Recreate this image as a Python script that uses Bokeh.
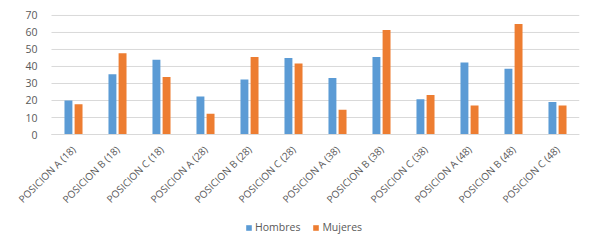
import math
import numpy as np
from bokeh.plotting import figure
from bokeh.models import ColumnDataSource, Range1d, Legend, LegendItem, FixedTicker
from bokeh.embed import file_html
from bokeh.resources import INLINE

categories = ["POSICION A (18)", "POSICION B (18)", "POSICION C (18)",
              "POSICION A (28)", "POSICION B (28)", "POSICION C (28)",
              "POSICION A (38)", "POSICION B (38)", "POSICION C (38)",
              "POSICION A (48)", "POSICION B (48)", "POSICION C (48)"]
hombres = [20, 35.5, 44, 22.3, 32.3, 45, 33.2, 45.6, 20.8, 42.3, 38.6, 19.1]
mujeres = [17.8, 47.8, 33.8, 12.2, 45.6, 41.8, 14.6, 61.5, 23.2, 17, 65, 17]
y_ticks = [0, 10, 20, 30, 40, 50, 60, 70]

n = len(categories)
centers = np.arange(n) + 0.5

FONT = "Open Sans"
GRAY = "#595959"

# frame covers the whole figure (1.7 px per unit on y, 44 px per category on x);
# value 70 sits 15px below the top, 0 sits 100px above the bottom,
# the category axis starts 51px from the left edge
p = figure(x_range=Range1d(-51 / 44, n), y_range=Range1d(-58.8, 78.8),
           frame_width=579, frame_height=234,
           output_backend="svg", toolbar_location=None,
           min_border_left=0, min_border_right=2, min_border_top=0, min_border_bottom=0)

# horizontal grid lines over the category span
p.segment(x0=[0] * len(y_ticks), x1=[n] * len(y_ticks), y0=y_ticks, y1=y_ticks,
          line_color="#D9D9D9", line_width=1)

rh = p.vbar(x=centers - 0.115, top=hombres, width=0.18, color="#5B9BD5", line_color=None)
rm = p.vbar(x=centers + 0.115, top=mujeres, width=0.18, color="#ED7D31", line_color=None)

p.outline_line_color = None
p.xgrid.grid_line_color = None
p.ygrid.grid_line_color = None

p.yaxis.fixed_location = 0
p.yaxis.ticker = FixedTicker(ticks=y_ticks)
p.yaxis.axis_line_color = None
p.yaxis.major_tick_line_color = None
p.yaxis.minor_tick_line_color = None
p.yaxis.major_label_text_font = FONT
p.yaxis.major_label_text_font_size = "10.5px"
p.yaxis.major_label_text_color = GRAY
p.yaxis.major_label_standoff = 8

p.xaxis.fixed_location = 0
p.xaxis.bounds = (0, n)
p.xaxis.ticker = FixedTicker(ticks=list(centers))
p.xaxis.major_label_overrides = {float(c): lab for c, lab in zip(centers, categories)}
p.xaxis.axis_line_color = "#D9D9D9"
p.xaxis.major_tick_line_color = None
p.xaxis.minor_tick_line_color = None
p.xaxis.major_label_orientation = math.pi / 4
p.xaxis.major_label_text_font = FONT
p.xaxis.major_label_text_font_size = "10px"
p.xaxis.major_label_text_color = GRAY
p.xaxis.major_label_standoff = 7

legend = Legend(items=[LegendItem(label="Hombres", renderers=[rh]),
                       LegendItem(label="Mujeres", renderers=[rm])],
                orientation="horizontal", location=(245, 0),
                label_text_font=FONT, label_text_font_size="10.5px", label_text_color=GRAY,
                label_height=12, glyph_width=7, glyph_height=7, label_standoff=3, spacing=12,
                padding=1, margin=0, border_line_color=None, background_fill_alpha=0)
p.add_layout(legend, "center")

open("out.html", "w").write(file_html(p, INLINE))
